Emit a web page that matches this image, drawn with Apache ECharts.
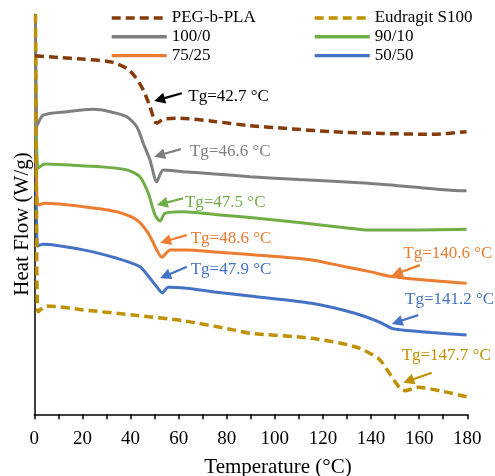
<!DOCTYPE html>
<html><head><meta charset="utf-8">
<script src="https://cdn.jsdelivr.net/npm/echarts@6/dist/echarts.min.js"></script>
<style>html,body{margin:0;padding:0;background:#fff}#c{width:495px;height:476px}</style>
</head><body><div id="c"></div>
<script>
// x ticks (°C)
const xTicks = [0, 20, 40, 60, 80, 100, 120, 140, 160, 180];
const seriesNames = ['PEG-b-PLA', 'Eudragit S100', '100/0', '90/10', '75/25', '50/50'];
const seriesColors = ['#843C0C', '#BF9000', '#7F7F7F', '#70AD47', '#ED7D31', '#4472C4'];

// [temperature °C, heat flow (arb. units, offset)]
const pegPla = [[0.3,8.965],[10,8.92],[20,8.88],[31.5,8.815],[38.4,8.65],[41.9,8.44],[45.3,8.11],[48.1,7.69],[50.9,7.275],[53.6,7.375],[60.6,7.4],[75,7.32],[89.7,7.215],[105,7.145],[123.6,7.065],[145,7.02],[165.2,7.0],[179.7,7.065]];
const eudragit = [[0.5,10],[0.9,5.5],[1.6,2.565],[5.2,2.71],[20.4,2.61],[41.2,2.48],[61.9,2.34],[82.7,2.11],[89.7,2.025],[115.3,1.9],[133.3,1.69],[143,1.4],[147.2,1.065],[152,0.65],[154.1,0.59],[159.6,0.675],[170,0.57],[179.7,0.44]];
const r100_0 = [[0.5,10],[1.1,7.21],[3.7,7.48],[13.5,7.565],[24.5,7.625],[31.5,7.565],[38.4,7.44],[42.6,7.19],[45.3,6.775],[48.1,6.36],[50.9,5.815],[53.6,6.11],[61.9,6.065],[75,6.01],[89.7,5.94],[110,5.87],[138.8,5.775],[160,5.67],[176.3,5.59],[179.7,5.59]];
const r90_10 = [[0.5,10],[1.5,6.15],[4.4,6.26],[15,6.23],[27.3,6.19],[38.4,6.11],[43.9,5.94],[47.4,5.525],[50.2,4.98],[52.3,4.83],[54.3,5.025],[61.9,5.065],[75,4.995],[89.7,4.92],[110,4.795],[130,4.66],[137.5,4.61],[160,4.61],[179.7,4.625]];
const r75_25 = [[0.5,10],[1.4,5.23],[4.4,5.275],[20.4,5.19],[34.3,5.065],[42.6,4.86],[47.4,4.525],[50.9,4.11],[53,3.925],[56.4,4.11],[63.4,4.11],[75,4.06],[89.7,3.995],[115.3,3.86],[129.2,3.69],[140,3.56],[147.2,3.46],[160,3.37],[179.7,3.275]];
const r50_50 = [[0.5,10],[1.3,4.21],[3.7,4.25],[20.4,4.11],[34.3,3.9],[43.9,3.69],[48.1,3.4],[50.9,3.19],[53.2,3.04],[55.7,3.175],[63.4,3.15],[75,3.06],[89.7,2.96],[115.3,2.775],[133.3,2.525],[143,2.315],[148.6,2.15],[152.7,2.11],[165,2.045],[179.7,1.98]];
const seriesData = [pegPla, eudragit, r100_0, r90_10, r75_25, r50_50];
const dashed = [true, true, false, false, false, false];

// annotations: label, color, text anchor [T,v], arrow tail [T,v], arrow head [T,v]
const annLabels = ['Tg=42.7 °C','Tg=46.6 °C','Tg=47.5 °C','Tg=48.6 °C','Tg=47.9 °C','Tg=140.6 °C','Tg=141.2 °C','Tg=147.7 °C'];
const annColors = ['#000000','#7F7F7F','#70AD47','#ED7D31','#4472C4','#ED7D31','#4472C4','#BF9000'];
const annText = [[64.0,7.94],[64.7,6.58],[62.6,5.29],[65.0,4.4],[65.0,3.61],[153.4,4.025],[154.1,2.875],[152.7,1.46]];
const annTail = [[61.3,8.025],[60.9,6.63],[61.9,5.4],[63.4,4.48],[63.4,3.69],[160.3,3.73],[159.6,2.48],[165.2,1.04]];
const annHead = [[49.8,7.83],[49.8,6.44],[50.9,5.23],[52.3,4.29],[52.3,3.4],[148.6,3.47],[148.6,2.26],[153.4,0.79]];

const FONT = '"Liberation Serif","Times New Roman",serif';
const chart = echarts.init(document.getElementById('c'), null, {renderer: 'canvas'});

const series = seriesNames.map((n, i) => ({
  name: n, type: 'line', data: seriesData[i], showSymbol: false, symbol: 'none',
  smooth: 0.25, z: 10 - i,
  lineStyle: {color: seriesColors[i], width: dashed[i] ? 3.5 : 3, type: dashed[i] ? [9, 5] : 'solid', cap: 'butt'},
  itemStyle: {color: seriesColors[i]}
}));

const legendCommon = {
  orient: 'vertical', itemWidth: 55, itemHeight: 14, itemGap: 1.8, padding: 0,
  itemStyle: {opacity: 0},
  lineStyle: {width: 3.4},
  textStyle: {fontFamily: FONT, fontSize: 17, color: '#000', lineHeight: 17}
};

chart.setOption({
  animation: false,
  backgroundColor: '#fff',
  grid: {left: 34.3, right: 27.7, top: 14.3, bottom: 61.7, containLabel: false},
  legend: [
    Object.assign({}, legendCommon, {left: 110, top: 9.5, data: ['PEG-b-PLA', '100/0', '75/25']}),
    Object.assign({}, legendCommon, {left: 313, top: 9.5, data: ['Eudragit S100', '90/10', '50/50']})
  ],
  xAxis: {
    type: 'value', min: xTicks[0], max: xTicks[xTicks.length - 1], interval: 20,
    axisLine: {show: true, onZero: false, lineStyle: {color: '#000', width: 1.5}},
    axisTick: {show: true, length: 5, lineStyle: {color: '#000', width: 1.5}},
    minorTick: {show: true, splitNumber: 2, length: 5, lineStyle: {color: '#000', width: 1.5}},
    splitLine: {show: false},
    axisLabel: {fontFamily: FONT, fontSize: 19, color: '#000', margin: 15}
  },
  yAxis: {
    type: 'value', min: 0, max: 10,
    axisLine: {show: true, lineStyle: {color: '#000', width: 1.5}},
    axisTick: {show: false}, axisLabel: {show: false}, splitLine: {show: false}
  },
  series: series
});

const g = [];
annLabels.forEach((t, i) => {
  const tp = chart.convertToPixel({gridIndex: 0}, annText[i]);
  const a = chart.convertToPixel({gridIndex: 0}, annTail[i]);
  const h = chart.convertToPixel({gridIndex: 0}, annHead[i]);
  const dx = h[0] - a[0], dy = h[1] - a[1];
  const len = Math.sqrt(dx * dx + dy * dy);
  const ux = dx / len, uy = dy / len;
  const L = 11, W = 5.5;
  const bx = h[0] - ux * L, by = h[1] - uy * L;
  g.push({type: 'line', z: 100, shape: {x1: a[0], y1: a[1], x2: bx + ux * 2, y2: by + uy * 2}, style: {stroke: annColors[i], lineWidth: 2.2}});
  g.push({type: 'polygon', z: 100, shape: {points: [[h[0], h[1]], [bx - uy * W, by + ux * W], [bx + uy * W, by - ux * W]]}, style: {fill: annColors[i]}});
  g.push({type: 'text', z: 100, x: tp[0], y: tp[1], style: {text: t, fill: annColors[i], font: '17px ' + FONT, textAlign: 'left', textVerticalAlign: 'middle', verticalAlign: 'middle'}});
});
g.push({type: 'text', x: 278, y: 467, style: {text: 'Temperature (°C)', fill: '#000', font: '21px ' + FONT, textAlign: 'center', textVerticalAlign: 'middle', verticalAlign: 'middle'}});
g.push({type: 'text', x: 22, y: 224, rotation: Math.PI / 2, style: {text: 'Heat Flow (W/g)', fill: '#000', font: '21px ' + FONT, textAlign: 'center', textVerticalAlign: 'middle', verticalAlign: 'middle'}});
chart.setOption({graphic: g});
</script>
</body></html>
